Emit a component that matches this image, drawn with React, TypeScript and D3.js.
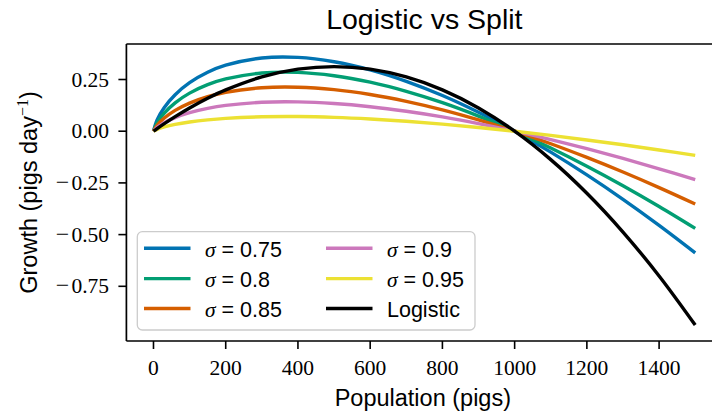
import React from "react";
import * as d3 from "d3";

// Population grid (pigs) at which each growth curve is sampled
const population = [0, 10, 30, 60, 100, 150, 200, 300, 400, 500, 600, 700, 800, 900, 1000, 1100, 1200, 1300, 1400, 1500];

// Split-model growth (pigs per day) for each sigma
const split075 = [0, 0.0549, 0.115, 0.1766, 0.2347, 0.285, 0.3191, 0.3538, 0.3568, 0.3361, 0.2966, 0.2412, 0.1725, 0.0914, 0, -0.1012, -0.2112, -0.3292, -0.455, -0.5879];
const split080 = [0, 0.0408, 0.088, 0.1373, 0.1841, 0.225, 0.2528, 0.2815, 0.2846, 0.2684, 0.2371, 0.1929, 0.1379, 0.0731, 0, -0.081, -0.169, -0.2633, -0.3638, -0.4698];
const split085 = [0, 0.0288, 0.0638, 0.1007, 0.136, 0.167, 0.1882, 0.2102, 0.2129, 0.2012, 0.1777, 0.1446, 0.1035, 0.0548, 0, -0.0607, -0.1268, -0.1974, -0.2727, -0.3521];
const split090 = [0, 0.0184, 0.0414, 0.066, 0.0897, 0.1105, 0.1248, 0.1398, 0.1417, 0.1339, 0.1184, 0.0963, 0.069, 0.0365, 0, -0.0405, -0.0846, -0.1315, -0.1817, -0.2347];
const split095 = [0, 0.009, 0.0204, 0.0327, 0.0445, 0.055, 0.0622, 0.0697, 0.0708, 0.067, 0.0592, 0.0481, 0.0345, 0.0181, 0, -0.0202, -0.0423, -0.0656, -0.0907, -0.1172];

// Logistic growth (pigs per day)
const logistic = [0, 0.0124, 0.0364, 0.0705, 0.1125, 0.1594, 0.2, 0.2625, 0.3, 0.3125, 0.3, 0.2625, 0.2, 0.1125, 0, -0.1375, -0.3, -0.4875, -0.7, -0.9375];

const sigmaLabels = ["0.75", "0.8", "0.85", "0.9", "0.95"];
const xTicks = [0, 200, 400, 600, 800, 1000, 1200, 1400];
const yTicks = [-0.75, -0.5, -0.25, 0, 0.25];

const COLORS = ["#0173b2", "#029e73", "#d55e00", "#cc78bc", "#ece133"];
const SANS = "'Liberation Sans', Arial, Helvetica, sans-serif";
const SERIF = "'Liberation Serif', 'Times New Roman', serif";

export default function App() {
  const W = 712;
  const H = 412;
  const left = 126.4;
  const right = 722.3;
  const top = 44;
  const bottom = 341;

  const x = d3.scaleLinear().domain([-75, 1575]).range([left, right]);
  const y = d3.scaleLinear().domain([-1.0145, 0.4217]).range([bottom, top]);

  const line = d3
    .line<number>()
    .x((_, i) => x(population[i]))
    .y((d) => y(d))
    .curve(d3.curveCatmullRom.alpha(0.5));

  const splitSeries = [split075, split080, split085, split090, split095];
  const lw = 3.4;

  const legendItems = [
    ...sigmaLabels.map((s, i) => ({ label: s, color: COLORS[i], sigma: true })),
    { label: "Logistic", color: "#000000", sigma: false },
  ];
  const legendX = 137.3;
  const legendY = 231.7;
  const legendW = 337.7;
  const legendH = 98.3;
  const rowY = [248.3, 278.6, 308.5];
  const colX = [144, 326];
  const handleLen = 46.5;
  const textGap = 14.5;

  const fmtY = d3.format(".2f");

  return (
    <svg
      width={W}
      height={H}
      viewBox={`0 0 ${W} ${H}`}
      style={{ position: "absolute", left: 0, top: 0, background: "#ffffff" }}
    >
      <rect x={0} y={0} width={W} height={H} fill="#ffffff" />

      {/* title */}
      <text x={(left + right) / 2} y={28.5} textAnchor="middle" fontFamily={SANS} fontSize={28.5} fill="#000">
        Logistic vs Split
      </text>

      {/* curves */}
      <g fill="none" strokeWidth={lw} strokeLinejoin="round">
        {splitSeries.map((s, i) => (
          <path key={i} d={line(s) || ""} stroke={COLORS[i]} />
        ))}
        <path d={line(logistic) || ""} stroke="#000000" />
      </g>

      {/* spines */}
      <g stroke="#000" strokeWidth={1.7} fill="none">
        <line x1={left} y1={top} x2={left} y2={bottom} />
        <line x1={left} y1={top} x2={right} y2={top} />
        <line x1={left} y1={bottom} x2={right} y2={bottom} />
        <line x1={right} y1={top} x2={right} y2={bottom} />
      </g>

      {/* x ticks */}
      <g>
        {xTicks.map((t) => (
          <g key={t}>
            <line x1={x(t)} x2={x(t)} y1={bottom} y2={bottom + 8} stroke="#000" strokeWidth={1.6} />
            <text x={x(t)} y={375} textAnchor="middle" fontFamily={SERIF} fontSize={21.5} fill="#000">
              {String(t)}
            </text>
          </g>
        ))}
      </g>

      {/* y ticks */}
      <g>
        {yTicks.map((t) => {
          const s = fmtY(Math.abs(t));
          return (
            <g key={t}>
              <line x1={left - 8} x2={left} y1={y(t)} y2={y(t)} stroke="#000" strokeWidth={1.6} />
              <text x={109} y={y(t) + 7} textAnchor="end" fontFamily={SERIF} fontSize={21.5} fill="#000">
                {t < 0 ? (
                  <>
                    <tspan fontSize={24}>−</tspan>
                    <tspan dx={2}>{s}</tspan>
                  </>
                ) : (
                  s
                )}
              </text>
            </g>
          );
        })}
      </g>

      {/* axis labels */}
      <text x={(left + right) / 2 - 1.5} y={406} textAnchor="middle" fontFamily={SANS} fontSize={23.5} fill="#000">
        Population (pigs)
      </text>
      <text
        transform={`translate(36.5, ${(top + bottom) / 2}) rotate(-90)`}
        textAnchor="middle"
        fontFamily={SANS}
        fontSize={23.5}
        fill="#000"
      >
        Growth (pigs day
        <tspan dy={-9} fontFamily={SERIF} fontSize={16}>
          −1
        </tspan>
        <tspan dy={9}>)</tspan>
      </text>

      {/* legend */}
      <rect
        x={legendX}
        y={legendY}
        width={legendW}
        height={legendH}
        rx={5}
        fill="#ffffff"
        fillOpacity={0.8}
        stroke="#cccccc"
        strokeWidth={1.3}
      />
      {legendItems.map((it, i) => {
        const col = Math.floor(i / 3);
        const row = i % 3;
        const lx = colX[col];
        const ly = rowY[row];
        return (
          <g key={it.label}>
            <line x1={lx} x2={lx + handleLen} y1={ly} y2={ly} stroke={it.color} strokeWidth={lw} />
            <text x={lx + handleLen + textGap} y={ly + 8.5} fontFamily={SANS} fontSize={21.5} fill="#000">
              {it.sigma ? (
                <>
                  <tspan fontFamily={SERIF} fontStyle="italic">σ</tspan>
                  <tspan>{` = ${it.label}`}</tspan>
                </>
              ) : (
                it.label
              )}
            </text>
          </g>
        );
      })}
    </svg>
  );
}
